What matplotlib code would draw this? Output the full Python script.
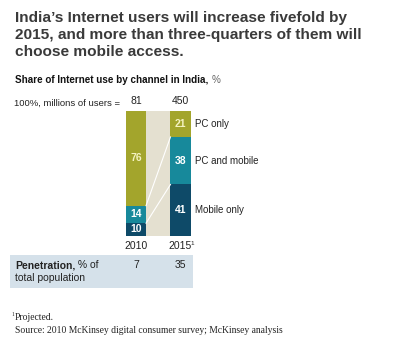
import matplotlib
matplotlib.use("Agg")
import matplotlib.pyplot as plt
from matplotlib.patches import Rectangle

years = ["2010", "2015"]
totals = ["81", "450"]
channels = ["Mobile only", "PC and mobile", "PC only"]
shares = {
    "Mobile only": [10, 41],
    "PC and mobile": [14, 38],
    "PC only": [76, 21],
}
penetration = ["7", "35"]
colors = {"Mobile only": "#0e4a68", "PC and mobile": "#17899b", "PC only": "#a3a52c"}
text_colors = {"Mobile only": "white", "PC and mobile": "white", "PC only": "#f4f2c0"}

W, H = 400, 346
fig = plt.figure(figsize=(W / 100, H / 100), dpi=100)
fig.patch.set_facecolor("white")
plt.rcParams["font.family"] = ["Liberation Sans", "DejaVu Sans"]

# overlay axes in pixel coordinates
ov = fig.add_axes([0, 0, 1, 1])
ov.set_xlim(0, W)
ov.set_ylim(H, 0)
ov.axis("off")

# bar axes
bl, br, bt, bb = 126, 190.5, 110.7, 235.7
ax = fig.add_axes([bl / W, 1 - bb / H, (br - bl) / W, (bb - bt) / H])
x = [0, 1]
w = 0.45
ax.set_xlim(-w / 2, 1 + w / 2)
ax.set_ylim(0, 100)
ax.axis("off")
ax.axvspan(w / 2, 1 - w / 2, color="#e4e0d0", lw=0)
bottoms = [0, 0]
bounds = []
for ch in channels:
    vals = shares[ch]
    ax.bar(x, vals, width=w, bottom=bottoms, color=colors[ch], lw=0)
    for i in range(2):
        ax.text(x[i], bottoms[i] + vals[i] / 2, str(vals[i]), ha="center", va="center",
                color=text_colors[ch], fontsize=7.5, fontweight="bold")
    bottoms = [bottoms[i] + vals[i] for i in range(2)]
    bounds.append(list(bottoms))
for b in bounds[:2]:
    ax.plot([w / 2, 1 - w / 2], b, color="white", lw=0.8)

# channel labels to the right
for ch in channels:
    i = channels.index(ch)
    lo = bounds[i - 1][1] if i > 0 else 0
    mid = lo + shares[ch][1] / 2
    ax.text(1 + w / 2 + 0.1, mid, ch, ha="left", va="center", fontsize=7, color="#222222")

# totals and years
for i in range(2):
    ax.text(x[i], 104, totals[i], ha="center", va="bottom", fontsize=7.5, color="#222222")
    ax.text(x[i], -4, years[i], ha="center", va="top", fontsize=7.5, color="#222222")
ax.text(1 + 0.23, -4.5, "1", ha="left", va="top", fontsize=4.5, color="#222222")
ov.text(120, 103, "100%, millions of users =", ha="right", va="center", fontsize=6.8, color="#222222")

# title
title = ["India\u2019s Internet users will increase fivefold by",
         "2015, and more than three-quarters of them will",
         "choose mobile access."]
for k, line in enumerate(title):
    ov.text(15, 18 + k * 17, line, ha="left", va="center", fontsize=11.1,
            fontweight="bold", color="#3a3a3a")
t = ov.text(15, 80, "Share of Internet use by channel in India, ", ha="left", va="center",
            fontsize=7.1, fontweight="bold", color="#111111")
ov.annotate("%", xycoords=t, xy=(1, 0.5), va="center", ha="left", fontsize=7.1, color="#666666")

# penetration table
ov.add_patch(Rectangle((10, 255), 183, 33, color="#d5e1ea", lw=0))
p = ov.text(15, 265, "Penetration,", ha="left", va="center", fontsize=7.5, fontweight="bold", color="#222222")
ov.annotate(" % of", xycoords=p, xy=(1, 0.5), va="center", ha="left", fontsize=7.5, color="#222222")
ov.text(15, 278, "total population", ha="left", va="center", fontsize=7.5, color="#222222")
for i, xp in enumerate([136, 180]):
    ov.text(xp, 265, penetration[i], ha="center", va="center", fontsize=7.5, color="#222222")

# footnotes
ov.text(11.5, 315, "1", ha="left", va="center", fontsize=4, family="Liberation Serif", color="#222222")
ov.text(14.5, 318, "Projected.", ha="left", va="center", fontsize=6.9,
        family="Liberation Serif", color="#222222")
ov.text(15, 330.5, "Source: 2010 McKinsey digital consumer survey; McKinsey analysis", ha="left",
        va="center", fontsize=6.9, family="Liberation Serif", color="#222222")

fig.savefig("out.png", dpi=100, facecolor="white")
